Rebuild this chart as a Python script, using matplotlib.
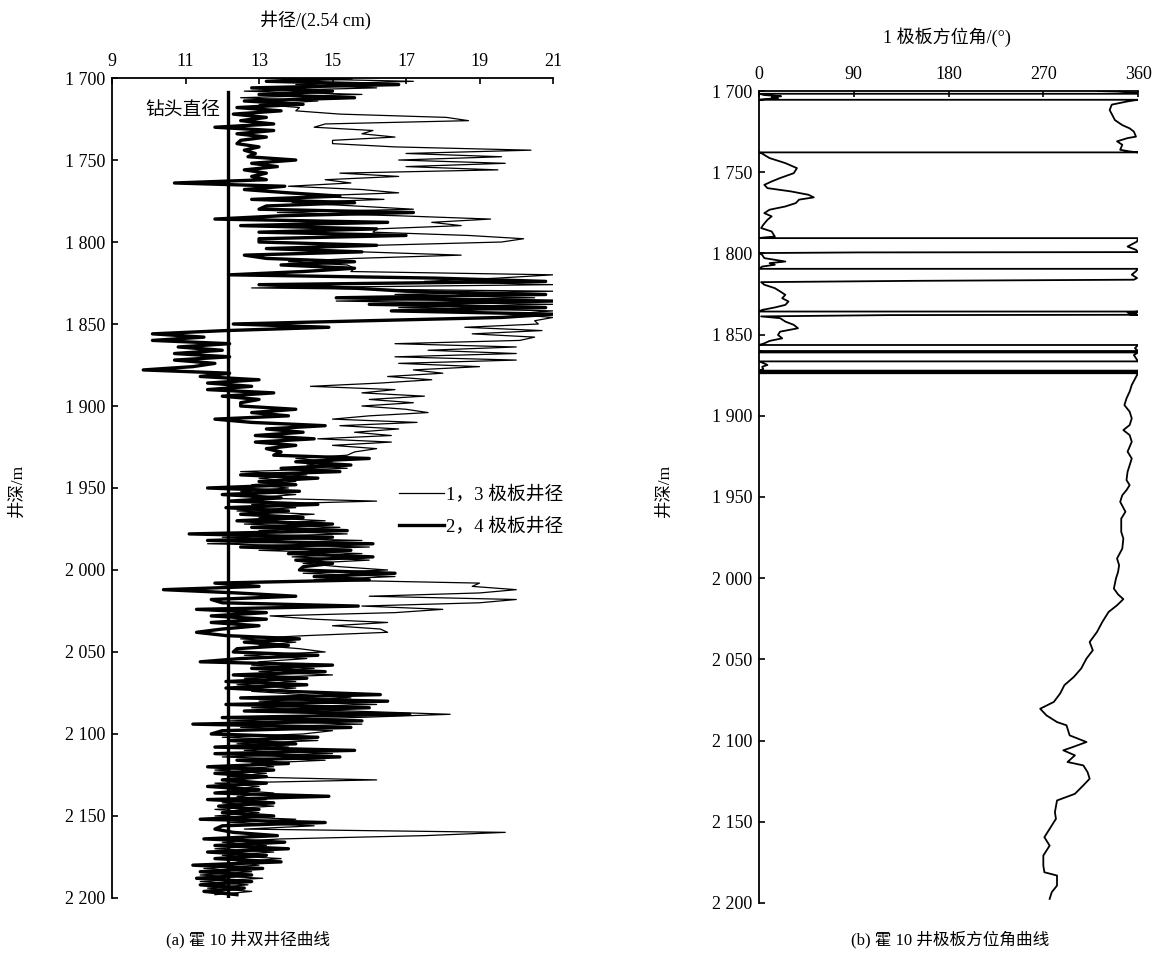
import numpy as np
import matplotlib
matplotlib.use('Agg')
import matplotlib.pyplot as plt
from matplotlib.ticker import FuncFormatter

MIXED = ['Liberation Serif', 'Noto Sans CJK SC']
plt.rcParams['font.family'] = MIXED

# caliper log, one sample every 2 m from 1700 m (each row = 10 m)
caliper_depth = np.arange(1700, 2200, 2)
cal24 = [  # 2,4 pad caliper (thick)
    15.5, 13.2, 16.8, 12.8, 15.0,   # 1700
    13.0, 15.6, 12.6, 14.2, 12.4,   # 1710
    13.6, 12.3, 13.2, 12.5, 13.4,   # 1720
    11.8, 13.4, 12.4, 13.2, 12.5,   # 1730
    12.4, 13.0, 12.6, 12.9, 12.7,   # 1740
    14.0, 12.8, 13.5, 12.6, 13.2,   # 1750
    12.8, 13.2, 10.7, 13.7, 12.6,   # 1760
    13.8, 15.2, 12.8, 15.6, 13.2,   # 1770
    13.0, 17.2, 13.6, 11.8, 16.5,   # 1780
    12.5, 16.2, 13.0, 17.0, 13.0,   # 1790
    13.0, 16.2, 13.2, 15.8, 12.6,   # 1800
    13.2, 15.6, 13.6, 15.6, 14.2,   # 1810
    12.2, 17.8, 20.8, 13.0, 15.5,   # 1820
    17.0, 20.8, 15.1, 21.0, 16.0,   # 1830
    20.8, 16.6, 21.0, 19.6, 16.0,   # 1840
    12.3, 14.9, 12.1, 10.1, 11.5,   # 1850
    10.1, 12.2, 10.8, 12.0, 10.7,   # 1860
    12.2, 10.7, 11.8, 11.2, 9.85,   # 1870
    12.2, 11.4, 13.0, 11.6, 12.8,   # 1880
    11.6, 13.4, 12.0, 13.0, 12.5,   # 1890
    12.5, 14.0, 12.8, 13.8, 11.8,   # 1900
    12.8, 14.8, 13.2, 14.2, 12.9,   # 1910
    14.5, 12.9, 14.0, 13.2, 13.6,   # 1920
    13.4, 16.0, 14.0, 15.5, 13.6,   # 1930
    15.2, 12.5, 14.6, 13.0, 14.0,   # 1940
    11.6, 14.1, 12.0, 13.6, 12.2,   # 1950
    14.6, 12.1, 13.8, 12.5, 14.2,   # 1960
    12.4, 15.0, 12.8, 15.4, 11.1,   # 1970
    15.0, 11.6, 16.1, 12.5, 15.5,   # 1980
    13.8, 16.1, 14.0, 15.0, 14.2,   # 1990
    14.1, 16.7, 14.5, 16.0, 11.8,   # 2000
    13.0, 10.4, 12.4, 14.0, 11.7,   # 2010
    12.0, 15.7, 11.3, 13.2, 11.7,   # 2020
    13.2, 11.7, 13.0, 12.0, 11.3,   # 2030
    12.1, 14.1, 12.6, 13.8, 12.4,   # 2040
    12.3, 14.6, 12.5, 11.4, 15.0,   # 2050
    12.8, 14.8, 12.3, 14.3, 12.1,   # 2060
    14.3, 12.1, 13.8, 16.3, 12.5,   # 2070
    16.5, 12.1, 16.0, 12.6, 17.1,   # 2080
    12.0, 15.8, 11.2, 15.5, 12.0,   # 2090
    11.7, 14.6, 12.2, 14.0, 11.8,   # 2100
    15.6, 11.8, 15.2, 12.4, 13.8,   # 2110
    11.6, 13.4, 11.8, 13.2, 12.0,   # 2120
    13.2, 11.6, 13.0, 11.8, 14.9,   # 2130
    11.6, 13.4, 11.9, 13.0, 12.0,   # 2140
    13.4, 11.4, 14.8, 12.0, 11.8,   # 2150
    12.3, 13.5, 11.5, 13.7, 11.8,   # 2160
    13.8, 11.6, 13.2, 11.8, 13.6,   # 2170
    11.2, 13.1, 11.4, 12.8, 11.3,   # 2180
    12.8, 11.4, 12.6, 11.5, 12.4,   # 2190
]
cal13 = [  # 1,3 pad caliper (thin)
    13.0, 17.2, 14.0, 16.2, 12.6,   # 1700
    15.8, 12.5, 14.6, 13.0, 14.1,   # 1710
    14.0, 15.2, 18.1, 18.7, 14.8,   # 1720
    14.5, 16.1, 15.8, 16.7, 15.0,   # 1730
    15.0, 16.7, 20.4, 17.0, 19.6,   # 1740
    16.8, 19.7, 17.0, 19.5, 15.2,   # 1750
    16.8, 14.8, 15.5, 13.8, 15.8,   # 1760
    16.8, 14.3, 16.4, 13.9, 15.6,   # 1770
    17.2, 13.5, 16.8, 19.3, 17.7,   # 1780
    18.5, 16.2, 16.1, 18.7, 20.2,   # 1790
    19.6, 16.2, 14.0, 15.8, 18.5,   # 1800
    15.6, 13.8, 15.4, 15.6, 15.5,   # 1810
    21.0, 19.5, 17.5, 21.0, 12.8,   # 1820
    21.0, 16.7, 20.5, 15.1, 21.0,   # 1830
    16.8, 21.0, 19.8, 21.0, 20.5,   # 1840
    20.6, 18.6, 20.7, 18.8, 20.5,   # 1850
    20.1, 16.7, 20.0, 17.6, 20.0,   # 1860
    16.7, 20.0, 16.8, 19.0, 17.2,   # 1870
    18.0, 16.5, 17.7, 16.3, 14.4,   # 1880
    16.7, 15.8, 17.5, 16.0, 17.2,   # 1890
    15.8, 17.0, 17.6, 16.0, 15.0,   # 1900
    17.3, 15.2, 16.8, 15.6, 16.6,   # 1910
    14.6, 16.6, 15.0, 16.2, 15.6,   # 1920
    15.4, 14.0, 15.0, 14.3, 15.4,   # 1930
    12.5, 14.3, 13.0, 14.0, 12.8,   # 1940
    13.8, 12.5, 14.0, 12.8, 16.2,   # 1950
    12.8, 14.0, 12.4, 14.5, 13.0,   # 1960
    14.8, 12.6, 15.2, 13.0, 15.4,   # 1970
    12.0, 15.8, 11.6, 16.0, 13.0,   # 1980
    15.8, 13.9, 16.0, 14.2, 15.2,   # 1990
    16.5, 14.2, 16.7, 14.5, 19.0,   # 2000
    18.8, 20.0, 19.0, 16.0, 20.0,   # 2010
    19.0, 15.8, 18.0, 16.7, 13.3,   # 2020
    14.5, 16.5, 15.0, 16.3, 16.5,   # 2030
    14.3, 12.5, 14.0, 13.0, 14.1,   # 2040
    14.8, 12.6, 14.3, 13.0, 12.8,   # 2050
    14.5, 13.0, 15.0, 12.6, 14.0,   # 2060
    12.4, 14.0, 12.8, 14.2, 15.5,   # 2070
    13.0, 16.2, 12.8, 15.5, 18.2,   # 2080
    15.6, 12.2, 15.8, 12.5, 15.0,   # 2090
    14.2, 12.0, 14.6, 12.4, 13.8,   # 2100
    12.6, 15.0, 12.0, 14.8, 12.8,   # 2110
    13.4, 11.8, 13.2, 12.2, 16.2,   # 2120
    11.8, 13.0, 12.2, 13.4, 12.4,   # 2130
    13.2, 12.0, 13.4, 11.8, 13.0,   # 2140
    11.8, 14.0, 12.2, 14.5, 12.6,   # 2150
    19.7, 17.5, 13.6, 12.0, 13.2,   # 2160
    11.8, 13.4, 12.0, 13.6, 12.4,   # 2170
    13.0, 11.5, 12.8, 11.4, 13.1,   # 2180
    11.4, 12.7, 11.6, 12.8, 11.8,   # 2190
]
bit_size = 12.15
bit_depth = [1708.5, 2200]

# pad 1 azimuth (deg); repeated depths are the 0/360 wrap-arounds
az_depth = [
    1700.0, 1700.3, 1700.8, 1701.3, 1701.7, 1701.7, 1702.5, 1703.2, 1703.8, 1704.4,
    1705.0, 1705.4, 1705.4, 1706.4, 1708.4, 1711.7, 1717.9, 1721.0, 1723.0, 1725.0,
    1728.1, 1729.0, 1731.0, 1733.1, 1736.2, 1737.2, 1737.8, 1737.8, 1738.2, 1741.3,
    1744.4, 1747.5, 1750.6, 1753.6, 1755.7, 1757.8, 1759.8, 1761.8, 1763.9, 1765.5,
    1766.9, 1769.0, 1771.1, 1773.1, 1775.2, 1777.2, 1779.3, 1782.4, 1784.4, 1786.5,
    1789.6, 1790.3, 1790.6, 1790.6, 1792.7, 1795.8, 1797.8, 1799.2, 1799.4, 1799.8,
    1800.9, 1802.9, 1805.0, 1806.0, 1807.0, 1808.1, 1809.5, 1809.5, 1811.0, 1813.1,
    1815.2, 1816.2, 1816.9, 1817.7, 1819.3, 1821.4, 1823.4, 1825.5, 1827.6, 1829.6,
    1831.7, 1833.3, 1834.8, 1835.8, 1835.8, 1836.4, 1836.9, 1837.5, 1837.8, 1838.0,
    1838.8, 1839.9, 1842.0, 1844.0, 1846.1, 1848.2, 1850.2, 1852.3, 1853.9, 1855.4,
    1856.4, 1856.4, 1858.4, 1860.1, 1860.1, 1860.6, 1861.0, 1861.0, 1862.6, 1864.6,
    1866.5, 1866.5, 1867.8, 1868.7, 1869.8, 1871.2, 1872.2, 1872.2, 1872.8, 1873.3,
    1873.3, 1873.8, 1873.8, 1874.9, 1881.0, 1885.1, 1889.3, 1893.4, 1897.5, 1901.6,
    1905.7, 1908.8, 1911.9, 1916.0, 1922.1, 1926.3, 1934.5, 1939.6, 1942.7, 1945.8,
    1948.9, 1953.0, 1959.1, 1963.3, 1971.5, 1975.6, 1981.8, 1987.9, 1992.0, 1996.1,
    2000.2, 2006.4, 2010.0, 2012.9, 2016.7, 2020.8, 2027.0, 2033.1, 2039.3, 2044.4,
    2049.5, 2055.6, 2060.8, 2065.9, 2071.0, 2076.2, 2080.4, 2084.5, 2088.6, 2090.6,
    2096.8, 2100.9, 2104.0, 2106.0, 2109.1, 2113.2, 2115.3, 2119.4, 2123.5, 2127.6,
    2132.8, 2136.9, 2144.1, 2148.2, 2152.3, 2159.5, 2164.7, 2170.8, 2177.0, 2181.1,
    2183.1, 2189.3, 2193.4, 2197.5,
]
az_value = [
    322, 341, 352, 360, 360, 0, 5, 21, 12, 18,
    6, 0, 360, 350, 335, 333, 338, 345, 352, 356,
    358, 350, 340, 345, 343, 352, 360, 0, 2, 10,
    25, 36, 33, 20, 12, 5, 8, 30, 47, 52,
    38, 35, 25, 10, 5, 12, 8, 4, 2, 12,
    15, 3, 0, 360, 359, 350, 358, 360, 94, 0,
    3, 5, 25, 10, 15, 3, 0, 360, 358, 354,
    359, 356, 147, 2, 5, 15, 20, 25, 22, 28,
    25, 15, 3, 0, 360, 350, 358, 352, 360, 123,
    2, 20, 25, 33, 37, 20, 18, 22, 10, 5,
    0, 360, 357, 360, 0, 2, 0, 360, 356, 358,
    360, 0, 5, 8, 3, 4, 0, 360, 357, 360,
    0, 0, 360, 359, 354, 352, 349, 347, 352, 354,
    352, 346, 352, 354, 350, 354, 350, 349, 352, 349,
    345, 343, 348, 344, 344, 346, 345, 340, 342, 341,
    339, 337, 341, 346, 340, 332, 326, 321, 314, 317,
    311, 306, 299, 290, 286, 280, 267, 273, 283, 292,
    295, 311, 298, 289, 300, 293, 308, 312, 314, 308,
    300, 283, 281, 282, 278, 271, 276, 270, 270, 271,
    283, 283, 278, 276,
]

depth_ticks = [1700, 1750, 1800, 1850, 1900, 1950, 2000, 2050, 2100, 2150, 2200]
cal_ticks = [9, 11, 13, 15, 17, 19, 21]
az_ticks = [0, 90, 180, 270, 360]

def thousands(v, pos):
    return f'{int(v):,}'.replace(',', ' ')

def style_axis(ax):
    for side in ['right', 'bottom']:
        ax.spines[side].set_visible(False)
    for side in ['left', 'top']:
        ax.spines[side].set_linewidth(1.3)
    ax.xaxis.tick_top()
    ax.tick_params(axis='both', direction='in', length=4, width=1.2, labelsize=13)
    ax.tick_params(axis='x', pad=6)
    ax.tick_params(axis='y', pad=5)
    ax.set_ylim(2200, 1700)
    ax.set_yticks(depth_ticks)
    ax.yaxis.set_major_formatter(FuncFormatter(thousands))

fig = plt.figure(figsize=(11.56, 9.61), dpi=100)

# (a) dual caliper
ax1 = fig.add_axes([0.0969, 0.0656, 0.3815, 0.8532])
ax1.plot(cal13, caliper_depth, color='black', lw=0.9, label='1，3 极板井径')
ax1.plot(cal24, caliper_depth, color='black', lw=2.4, label='2，4 极板井径')
ax1.plot([bit_size, bit_size], bit_depth, color='black', lw=2.4)
ax1.text(bit_size - 0.2, 1720, '钻头直径', ha='right', va='center', fontsize=13.5)
ax1.set_xlim(9, 21)
ax1.set_xticks(cal_ticks)
style_axis(ax1)
ax1.legend(loc='upper left', bbox_to_anchor=(0.65, 0.503), frameon=False,
           fontsize=13.5, handlelength=2.4, handletextpad=0.1, labelspacing=0.75,
           borderpad=0, borderaxespad=0)

# (b) pad 1 azimuth
ax2 = fig.add_axes([0.6566, 0.0604, 0.3279, 0.8449])
ax2.plot(az_value, az_depth, color='black', lw=1.3)
ax2.set_xlim(0, 360)
ax2.set_xticks(az_ticks)
style_axis(ax2)

fig.text(315 / 1156, 1 - 20 / 961, '井径/(2.54 cm)', ha='center', va='center', fontsize=13)
fig.text(947 / 1156, 1 - 37 / 961, '1 极板方位角/(°)', ha='center', va='center', fontsize=13)
fig.text(18 / 1156, 1 - 490 / 961, '井深/m', ha='center', va='center', rotation=90, fontsize=12.5)
fig.text(665 / 1156, 1 - 490 / 961, '井深/m', ha='center', va='center', rotation=90, fontsize=12.5)
fig.text(248 / 1156, 1 - 940 / 961, '(a) 霍 10 井双井径曲线', ha='center', va='center', fontsize=12)
fig.text(950 / 1156, 1 - 940 / 961, '(b) 霍 10 井极板方位角曲线', ha='center', va='center', fontsize=12)

fig.savefig('out.png', dpi=100)
